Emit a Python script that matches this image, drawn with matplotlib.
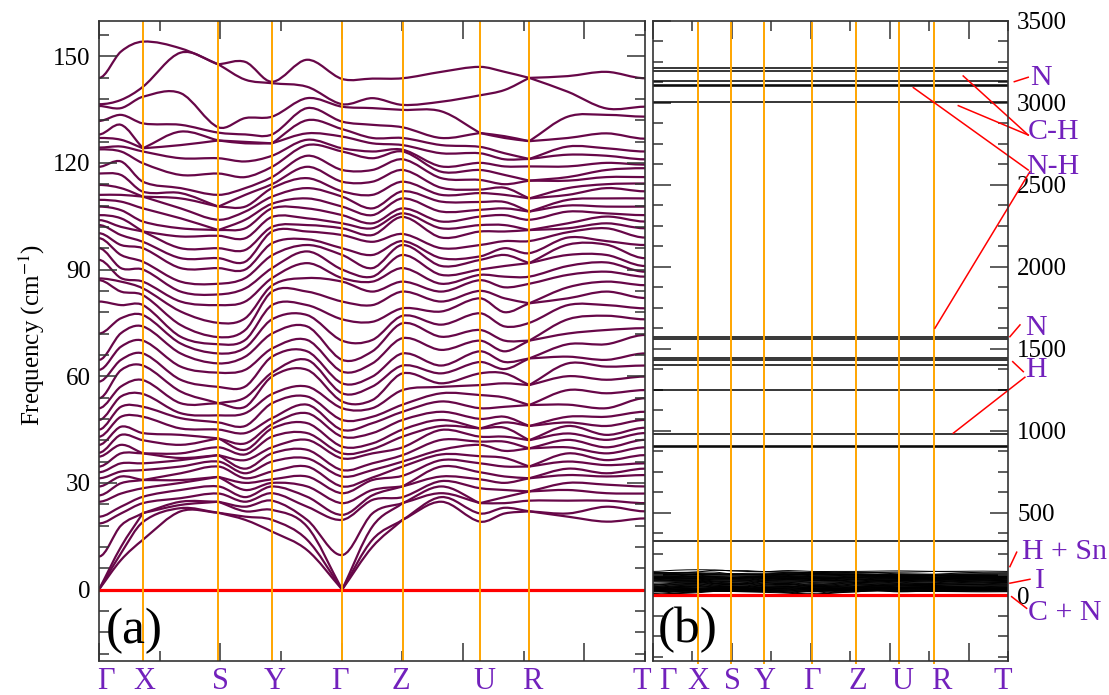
import numpy as np
import matplotlib
matplotlib.use("Agg")
import matplotlib.pyplot as plt
from matplotlib.ticker import MultipleLocator, NullFormatter
from matplotlib.path import Path
from matplotlib.patches import PathPatch

plt.rcParams['font.family'] = ['Liberation Serif', 'DejaVu Serif']
plt.rcParams['mathtext.fontset'] = 'stix'

# high symmetry path
k_names = ['Γ', 'X', 'S', 'Y', 'Γ', 'Z', 'U', 'R', 'T']
kpos_a = [0, 0.181, 0.492, 0.713, 1.002, 1.251, 1.570, 1.773, 2.25]
kpos_b = [0, 0.287, 0.493, 0.706, 1.010, 1.287, 1.557, 1.783, 2.25]
lab_a = [0.029, 0.185, 0.501, 0.725, 0.993, 1.244, 1.590, 1.787, 2.237]
lab_b = [0.095, 0.285, 0.501, 0.710, 1.008, 1.299, 1.578, 1.825, 2.218]

# sample columns along the path: (segment, fraction of segment)
col_seg = [0, 0, 1, 1, 2, 2, 3, 3, 4, 4, 5, 5, 6, 6, 7, 7, 7, 8]
col_t = [0, .5, 0, .5, 0, .5, 0, .5, 0, .5, 0, .5, 0, .5, 0, 1/3, 2/3, 0]

# frequencies (cm-1) read at every column, lowest first
freq_cols = [
    [0, 0, 0, 9.3, 18.6, 20.5, 24.7, 26.5, 29, 31.3, 33, 34.6, 37.4, 38.5, 40.7, 43, 45, 47.7, 51, 53.8, 58.5, 61.8, 64.6, 72,
     81, 87, 87.5, 92.7, 96, 98.8, 100.2, 102.5, 103.9, 105.3, 107.7, 109.6, 111, 113.8, 117, 118.9, 123.8, 124.3, 127, 128, 131.8, 136, 136.5, 143.9],
    [8.3, 10.2, 12, 18, 21.4, 23.3, 27, 29.9, 31.8, 33.2, 35.5, 38.3, 40.7, 43.5, 45.8, 48.6, 51.4, 54.3, 57.1, 61.7, 64.6, 68.3, 72.1, 76.3,
     80, 83.8, 86.6, 87.6, 90.4, 94.1, 96.9, 99.7, 102, 104.4, 106.7, 109.1, 111, 112.9, 116.6, 120.4, 123.2, 124.6, 126.5, 130.7, 133.5, 135.4, 137.7, 151.3],
    [14, 19, 21.5, 21.5, 24.3, 26.1, 28.5, 30.8, 30.8, 33.6, 35.5, 38.3, 38.3, 42, 44, 48.6, 51.4, 55, 58.9, 63, 66.4, 70, 74, 77.2,
     80, 82.8, 84.7, 86.6, 90, 92.2, 96, 97.8, 100.7, 100.7, 103.5, 107.2, 110.5, 110.5, 111.9, 114.7, 119.9, 123.2, 124.1, 124.1, 131.1, 138.6, 141.4, 154.1],
    [22, 22.9, 23.8, 24.7, 25.7, 28, 30, 30.8, 32.7, 34.6, 36.4, 37, 38.3, 40.7, 43.5, 45.3, 48.2, 49.6, 52.4, 55.7, 59, 62.7, 66.4, 69.2,
     71.1, 74.4, 78.2, 81, 83.8, 86.6, 90.4, 93.2, 96, 99.3, 101.6, 104.4, 107.2, 110, 111.5, 112.9, 116.6, 121.3, 125, 128.8, 130.7, 139.6, 151, 152.2],
    [21.6, 21.6, 24.7, 24.7, 27, 29, 31.7, 31.7, 34.6, 36, 37.8, 37.8, 40, 42.5, 42.5, 45, 47, 49, 52.4, 52.4, 57, 61, 63.6, 66.4,
     69, 71, 75, 80, 83, 86, 90.4, 93.2, 96, 99.5, 101.1, 101.1, 104, 107.7, 107.7, 111, 117, 121.3, 126.3, 126.3, 128.5, 130, 147.7, 147.7],
    [19.6, 20.5, 22, 23.3, 24.7, 26, 28, 30, 31.3, 32.7, 34, 36.4, 38, 39.3, 41.1, 44, 46, 49.6, 51.4, 54, 57.1, 61.8, 65.5, 68,
     70.2, 73, 76.3, 81, 84.7, 87.6, 90, 92.2, 95.5, 98.8, 101.6, 104, 106.3, 107.7, 111, 112.9, 116, 120.4, 125.5, 125.9, 128, 132.6, 143.4, 148.4],
    [16.3, 19.6, 22.4, 25, 27.1, 29, 30, 31, 33.2, 36, 38.3, 40, 43, 45.3, 46.5, 48.2, 52.4, 55, 59.9, 61, 65.5, 67.8, 72, 76,
     80, 83.8, 85.5, 87.6, 90.4, 94, 97.4, 100.7, 102, 104.8, 107.2, 108.5, 110.5, 112.9, 114, 116, 118.9, 122, 125.5, 125.5, 128, 133, 142.4, 142.8],
    [11.1, 14, 17.7, 19.6, 23.3, 26.1, 29, 31.8, 34.6, 36.9, 39.3, 42.1, 44, 46.8, 49.6, 52, 54.3, 57.1, 61.8, 64.6, 67, 70.2, 74, 77.2,
     80, 83.8, 87.6, 91.8, 95.1, 96.9, 98.5, 100.7, 102.5, 104.4, 107.2, 110, 112.9, 115.7, 118.9, 122, 125, 126.5, 128.3, 132, 135.4, 138.2, 141.4, 149],
    [0, 0, 0, 9.7, 19.6, 21, 24.3, 27.1, 29, 31.8, 33.6, 36.9, 38.3, 40.2, 43, 44.9, 47.7, 51, 52.9, 55.2, 58, 61.3, 64.6, 70,
     76, 81, 86.6, 87.6, 90, 94.1, 96, 99.7, 101.6, 103, 105.3, 107.7, 110.5, 112, 114.7, 118, 123.2, 124.1, 127.4, 129.5, 131.6, 135.8, 136.5, 143.6],
    [12, 14, 17.7, 21.4, 25.2, 26.5, 28, 30.8, 31.5, 33.6, 35.5, 38.3, 39.5, 41.1, 44, 46.8, 48.6, 51, 53.3, 57.1, 59.9, 63.6, 67, 70.2,
     75.3, 80, 83.8, 86.6, 88, 90.4, 94.1, 97.8, 99.7, 101.6, 103, 105.3, 107.2, 111, 114.7, 118, 121.3, 123.2, 125.5, 127, 130.7, 135.4, 138.2, 143.7],
    [19.6, 19.6, 24.3, 24.3, 26, 29, 29, 32, 34.6, 36, 37.8, 40, 43, 45, 47.7, 50, 52, 56.1, 60.8, 63, 66.4, 70.7, 74.9, 77,
     79.1, 83.8, 86.6, 90.4, 94.1, 96.9, 98, 100, 104.8, 105.8, 107.2, 110, 112, 114.7, 118, 121, 123.2, 123.7, 125, 127, 130, 134.9, 136.3, 143.8],
    [24.7, 26, 27.1, 29, 30.5, 31.8, 34.6, 36.4, 38, 39.3, 42.1, 44.9, 46, 47.7, 50, 52.9, 55.2, 57, 58, 60.8, 63, 67.4, 71.1, 74.5,
     78.2, 81, 83.8, 86, 88.5, 91, 93.2, 96, 99, 101.6, 103.5, 106.3, 109.1, 111, 113, 115.7, 117.5, 119, 122.7, 125, 127, 134.5, 137.2, 145.6],
    [19.1, 21.4, 24.3, 24.3, 28.5, 31, 33, 35.5, 37.5, 40.7, 41.6, 43, 45.3, 45.3, 48, 51, 54.7, 57.5, 60.8, 64, 67, 70, 73, 77.7,
     81.9, 84, 87, 88.5, 90, 92.7, 93.7, 96.9, 100.7, 102.5, 104.9, 106.8, 109, 111.5, 112.5, 115.2, 118, 120, 122.7, 124.5, 128.4, 128.4, 139, 147],
    [21.4, 23, 24.3, 26, 28, 30, 31.8, 34.6, 37, 39, 41.6, 43, 45.5, 47, 48.6, 51.4, 54, 58, 60.8, 62, 64, 67, 70, 74,
     78, 81.9, 85, 88, 91, 94.1, 96, 98, 100.7, 102.5, 105.3, 107.2, 109, 111, 113, 114, 116.6, 119, 121, 122.7, 127, 127.5, 140.5, 145.6],
    [22, 22, 25, 27.6, 27.6, 31.3, 31.3, 34.6, 34.6, 39.7, 39.7, 42, 42, 46, 46, 51.9, 51.9, 57.5, 57.5, 65, 65, 70, 70, 75,
     80.5, 80.5, 86, 88, 91.8, 91.8, 94.6, 98, 101.1, 101.1, 104, 106.3, 106.3, 110, 110, 115, 115, 119, 121.1, 121.1, 126.1, 126.1, 143.9, 143.9],
    [20.5, 21.4, 25, 28, 30, 32.2, 34, 36, 38.3, 40, 42.1, 43.9, 46, 47, 48.6, 52, 56.1, 60, 63.6, 65.5, 69, 72, 76, 80,
     81.9, 85, 88.5, 91, 94.1, 97, 99, 100.5, 101.6, 103, 106.3, 108, 109.6, 111, 112.9, 115, 116, 119, 122.3, 124.6, 127, 133, 140, 144.4],
    [19.1, 23.3, 25, 27.1, 29.5, 31.8, 32.7, 35, 36.4, 38.3, 40, 42.1, 43.5, 46, 48.6, 51, 55.2, 59, 62.7, 64.6, 69, 73, 77, 80,
     83.8, 86.6, 89.4, 92, 94.1, 97, 98, 101.6, 103, 104.9, 105.8, 107.7, 110, 112.9, 114, 116, 118, 120, 122, 124.1, 128.3, 133.5, 135.3, 145.6],
    [20, 22, 24.3, 27, 29, 32.2, 34, 35.5, 37.8, 40, 42.1, 44, 45.5, 47.7, 50, 53.8, 56.1, 59.9, 63, 66.4, 71.6, 73.5, 76, 79.1,
     82, 85.6, 88, 89.4, 91, 93.2, 96.9, 99, 101.6, 103.5, 105.3, 107.7, 110, 112, 114.2, 116, 118.5, 119.5, 121, 123.2, 126.8, 133, 135.8, 143.8],
]

# flat high frequency modes of panel (b)
high_modes = [329, 902, 906, 980, 1248, 1400, 1435, 1447, 1563, 1573, 3002, 3101, 3107, 3132, 3193, 3213]

# annotation labels of panel (b): text, x, y
notes = [('N', 2.389, 3151), ('C-H', 2.376, 2822), ('N-H', 2.368, 2610), ('N', 2.357, 1627),
         ('H', 2.357, 1371), ('H + Sn', 2.337, 264), ('I', 2.421, 87), ('C + N', 2.378, -108)]
# pointer lines: x0, y0, x1, y1
pointers = [(2.290, 3128, 2.378, 3155), (1.966, 3163, 2.378, 2803), (1.935, 2982, 2.378, 2803),
            (1.650, 3092, 2.378, 2590), (2.389, 2580, 1.787, 1626), (2.262, 1574, 2.326, 1646),
            (2.280, 1422, 2.347, 1361), (2.357, 1327, 1.903, 986), (2.262, 173, 2.305, 261),
            (2.262, 72, 2.389, 96), (2.273, -10, 2.368, -81)]

bands = np.array([sorted(c) for c in freq_cols]).T


def col_x(kpos):
    xs = []
    for s, t in zip(col_seg, col_t):
        if s == len(kpos) - 1:
            xs.append(kpos[s])
        else:
            xs.append(kpos[s] + t * (kpos[s + 1] - kpos[s]))
    return np.array(xs)


def band_path(x, y, degen):
    # smooth bezier through the read points, sharp corner where bands touch
    n = len(x)
    slope = np.diff(y) / np.diff(x)
    m_in = np.zeros(n)
    m_out = np.zeros(n)
    for i in range(n):
        if i == 0:
            m_out[i] = slope[0] if degen[i] else 0
        elif i == n - 1:
            m_in[i] = slope[-1] if degen[i] else 0
        elif degen[i]:
            m_in[i], m_out[i] = slope[i - 1], slope[i]
        else:
            m_in[i] = m_out[i] = (y[i + 1] - y[i - 1]) / (x[i + 1] - x[i - 1])
    verts = [(x[0], y[0])]
    codes = [Path.MOVETO]
    for i in range(n - 1):
        d = (x[i + 1] - x[i]) / 3
        verts += [(x[i] + d, y[i] + m_out[i] * d), (x[i + 1] - d, y[i + 1] - m_in[i + 1] * d), (x[i + 1], y[i + 1])]
        codes += [Path.CURVE4] * 3
    return Path(verts, codes)


nb = bands.shape[0]
degen = np.zeros(bands.shape, bool)
for i in range(nb):
    if i > 0:
        degen[i] |= np.abs(bands[i] - bands[i - 1]) < 0.3
    if i < nb - 1:
        degen[i] |= np.abs(bands[i] - bands[i + 1]) < 0.3

purple = '#7221BC'
maroon = '#670748'

fig = plt.figure(figsize=(11.09, 6.95), dpi=100)
ax1 = fig.add_axes([99 / 1109, 0.0494, 546 / 1109, 0.9209])
ax2 = fig.add_axes([653 / 1109, 0.0494, 355 / 1109, 0.9209])

for ax in (ax1, ax2):
    ax.set_xlim(0, 2.25)
    ax.xaxis.set_major_locator(MultipleLocator(0.5))
    ax.xaxis.set_minor_locator(MultipleLocator(0.25))
    ax.xaxis.set_major_formatter(NullFormatter())
    ax.tick_params(which='both', direction='in', top=True, bottom=True, left=True, right=True,
                   width=1.1, colors='#333333', labelcolor='black', labelsize=18)
    ax.tick_params(which='major', length=13)
    ax.tick_params(which='minor', length=7)
    for sp in ax.spines.values():
        sp.set_linewidth(1.2)
        sp.set_color('#333333')

# panel (a)
xa = col_x(kpos_a)
for b, dg in zip(bands, degen):
    ax1.add_patch(PathPatch(band_path(xa, b, dg), fill=False, edgecolor=maroon, lw=1.6))
ax1.set_ylim(-20, 160)
ax1.yaxis.set_major_locator(MultipleLocator(30))
ax1.yaxis.set_minor_locator(MultipleLocator(6))
ax1.tick_params(axis='y', pad=6)
ax1.axhline(0, color='red', lw=2.3)
ax1.vlines(kpos_a[1:-1], -20, 160, color='orange', lw=1.4)
for name, x in zip(k_names, lab_a):
    ax1.text(x, -0.033, name, transform=ax1.get_xaxis_transform(), ha='center', va='center',
             color=purple, fontsize=22)
ax1.text(0.029, -11.6, '(a)', fontsize=37, ha='left', va='center')
fig.text(32 / 1109, 1 - 335 / 695, 'Frequency (cm$^{-1}$)', rotation=90, ha='center', va='center',
         fontsize=18)

# panel (b)
xb = col_x(kpos_b)
for b, dg in zip(bands, degen):
    ax2.add_patch(PathPatch(band_path(xb, b, dg), fill=False, edgecolor='black', lw=0.7))
for f in high_modes:
    ax2.axhline(f, color='black', lw=1.1)
ax2.set_ylim(-400, 3500)
ax2.yaxis.set_major_locator(MultipleLocator(500))
ax2.yaxis.set_minor_locator(MultipleLocator(125))
ax2.tick_params(axis='y', labelleft=False, labelright=True, pad=6.5)
ax2.axhline(0, color='red', lw=2.3)
ax2.vlines(kpos_b[1:-1], -420, 3490, color='orange', lw=1.4, clip_on=False)
for name, x in zip(k_names, lab_b):
    ax2.text(x, -0.033, name, transform=ax2.get_xaxis_transform(), ha='center', va='center',
             color=purple, fontsize=22)
ax2.text(0.032, -213, '(b)', fontsize=37, ha='left', va='center')
for x0, y0, x1, y1 in pointers:
    ax2.plot([x0, x1], [y0, y1], color='red', lw=1.1, clip_on=False)
for txt, x, y in notes:
    ax2.text(x, y, txt, color=purple, fontsize=21.5, ha='left', va='center', clip_on=False)

fig.savefig('out.png', dpi=100)
